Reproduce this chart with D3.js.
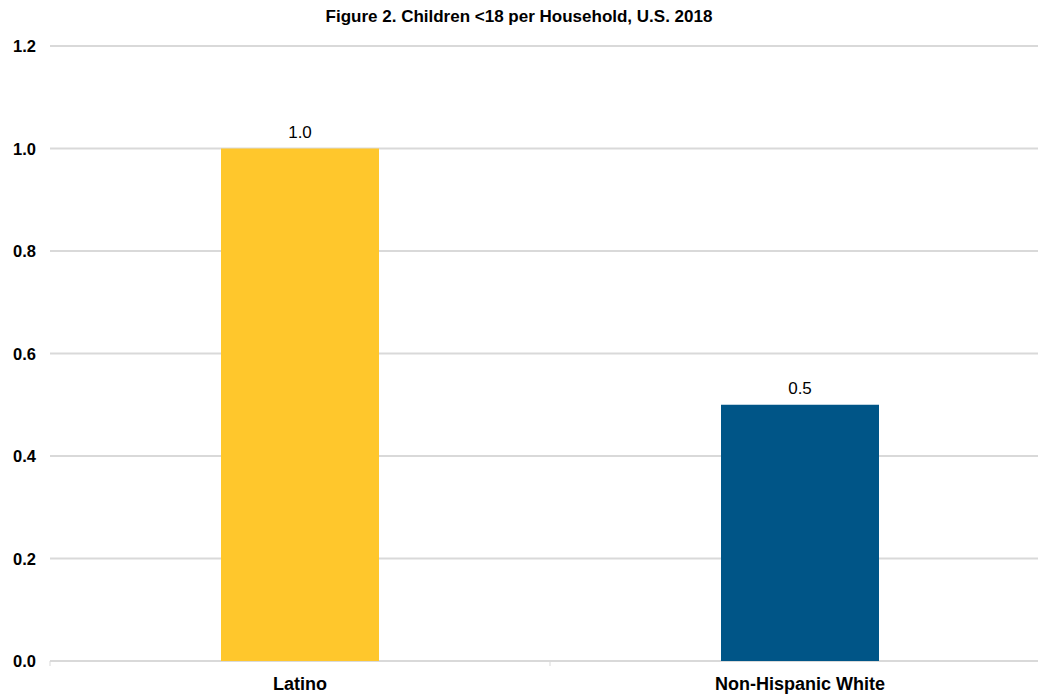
<!DOCTYPE html>
<html lang="en">
<head>
    <meta charset="utf-8">
    <title>Children per Household</title>
    <script src="https://d3js.org/d3.v7.min.js"></script>
    <style>
        body { margin: 0; background: white; }
        text { font-family: "Liberation Sans", Arial, sans-serif; }
    </style>
</head>
<body>
    <div id="chart"></div>
    <script>
        // chart data
        const categories = ["Latino", "Non-Hispanic White"];
        const values = [1.0, 0.5];
        const colors = ["#FFC72C", "#005587"];
        const yTicks = [0, 0.2, 0.4, 0.6, 0.8, 1.0, 1.2];

        var width = 1038, height = 694;
        var margin = {top: 46, right: -12, bottom: 33, left: 50};

        var svg = d3.select("#chart").append("svg")
            .attr("width", width)
            .attr("height", height);

        var x = d3.scaleBand()
            .domain(categories)
            .range([margin.left, width - margin.right])
            .paddingInner(0.684)
            .paddingOuter(0.342);

        var y = d3.scaleLinear()
            .domain([0, 1.2])
            .range([height - margin.bottom, margin.top]);

        // title
        svg.append("text")
            .attr("x", 519)
            .attr("y", 22)
            .attr("text-anchor", "middle")
            .style("font-size", "17px")
            .style("font-weight", "bold")
            .text("Figure 2. Children <18 per Household, U.S. 2018");

        // gridlines
        svg.append("g").selectAll("line")
            .data(yTicks)
            .enter().append("line")
            .attr("x1", margin.left)
            .attr("x2", width - margin.right)
            .attr("y1", d => y(d))
            .attr("y2", d => y(d))
            .attr("stroke", "#d9d9d9")
            .attr("stroke-width", 2);

        // y labels
        svg.append("g").selectAll("text")
            .data(yTicks)
            .enter().append("text")
            .attr("x", 36)
            .attr("y", d => y(d) + 6)
            .attr("text-anchor", "end")
            .style("font-size", "16.5px")
            .style("font-weight", "bold")
            .text(d => d3.format(".1f")(d));

        // category tick marks on the x axis
        var bounds = [margin.left, margin.left + x.step(), margin.left + x.step() * 2];
        svg.append("g").selectAll("line")
            .data(bounds)
            .enter().append("line")
            .attr("x1", d => d)
            .attr("x2", d => d)
            .attr("y1", y(0))
            .attr("y2", y(0) + 5)
            .attr("stroke", "#d9d9d9")
            .attr("stroke-width", 1);

        // bars
        svg.append("g").selectAll("rect")
            .data(categories)
            .enter().append("rect")
            .attr("x", d => x(d))
            .attr("width", x.bandwidth())
            .attr("y", (d, i) => y(values[i]))
            .attr("height", (d, i) => y(0) - y(values[i]))
            .attr("fill", (d, i) => colors[i]);

        // value labels
        svg.append("g").selectAll("text")
            .data(categories)
            .enter().append("text")
            .attr("x", d => x(d) + x.bandwidth() / 2)
            .attr("y", (d, i) => y(values[i]) - 11)
            .attr("text-anchor", "middle")
            .style("font-size", "17px")
            .text((d, i) => d3.format(".1f")(values[i]));

        // category labels
        svg.append("g").selectAll("text")
            .data(categories)
            .enter().append("text")
            .attr("x", d => x(d) + x.bandwidth() / 2)
            .attr("y", 690)
            .attr("text-anchor", "middle")
            .style("font-size", "18px")
            .style("font-weight", "bold")
            .text(d => d);
    </script>
</body>
</html>
